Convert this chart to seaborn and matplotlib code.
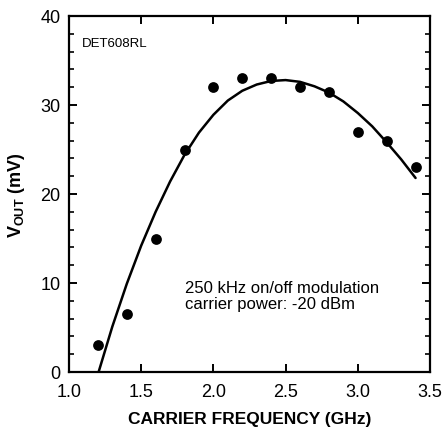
import numpy as np
import pandas as pd
import matplotlib
matplotlib.use("Agg")
import matplotlib.pyplot as plt
import seaborn as sns

# measured points
freq = [1.2, 1.4, 1.6, 1.8, 2.0, 2.2, 2.4, 2.6, 2.8, 3.0, 3.2, 3.4]
vout = [3.0, 6.5, 15.0, 25.0, 32.0, 33.0, 33.0, 32.0, 31.5, 27.0, 26.0, 23.0]

# fitted curve
curve_f = [1.205, 1.3, 1.4, 1.5, 1.6, 1.7, 1.8, 1.9, 2.0, 2.1, 2.2, 2.3, 2.4,
           2.5, 2.6, 2.7, 2.8, 2.9, 3.0, 3.1, 3.2, 3.3, 3.4]
curve_v = [0.0, 5.1, 9.9, 14.2, 18.0, 21.4, 24.4, 26.9, 28.9, 30.5, 31.6, 32.3, 32.7,
           32.8, 32.6, 32.1, 31.4, 30.4, 29.1, 27.6, 25.8, 23.9, 21.8]

x_ticks = [1.0, 1.5, 2.0, 2.5, 3.0, 3.5]
y_ticks = [0, 10, 20, 30, 40]

sns.set_theme(style="ticks")
plt.rcParams['font.family'] = ['Liberation Sans', 'DejaVu Sans']
plt.rcParams['mathtext.fontset'] = 'custom'
plt.rcParams['mathtext.rm'] = 'Liberation Sans'
plt.rcParams['mathtext.bf'] = 'Liberation Sans:bold'
plt.rcParams['text.color'] = 'black'
plt.rcParams['axes.labelcolor'] = 'black'
plt.rcParams['xtick.color'] = 'black'
plt.rcParams['ytick.color'] = 'black'

pts = pd.DataFrame({"f": freq, "v": vout})
crv = pd.DataFrame({"f": curve_f, "v": curve_v})

fig = plt.figure(figsize=(4.43, 4.35), dpi=100)
ax = fig.add_axes([69/443, 1 - 373/435, (430-69)/443, (373-17)/435])

sns.lineplot(data=crv, x="f", y="v", ax=ax, color="black", lw=1.8, sort=False)
sns.scatterplot(data=pts, x="f", y="v", ax=ax, color="black", s=60,
                edgecolor="black", linewidth=0, zorder=3)

ax.set_xlim(1.0, 3.5)
ax.set_ylim(0, 40)
ax.set_xticks(x_ticks)
ax.set_xticklabels([f"{t:.1f}" for t in x_ticks])
ax.set_yticks(y_ticks)
ax.set_yticklabels([str(t) for t in y_ticks])
ax.set_yticks(np.arange(0, 41, 2), minor=True)

for s in ax.spines.values():
    s.set_linewidth(1.6)
    s.set_color("black")

ax.tick_params(axis="both", which="major", direction="in", length=6, width=1.4,
               top=True, right=True, labelsize=13, labelcolor="black")
ax.tick_params(axis="x", which="major", pad=8)
ax.tick_params(axis="y", which="major", pad=6)
ax.tick_params(axis="y", which="minor", direction="in", length=3.5, width=1.2,
               left=True, right=True)
ax.tick_params(axis="x", which="minor", bottom=False, top=False)

ax.set_xlabel("CARRIER FREQUENCY (GHz)", fontsize=12.5, fontweight="bold", labelpad=8)
ax.set_ylabel(r"$\mathbf{V}_{\mathbf{OUT}}$ (mV)", fontsize=13, fontweight="bold", labelpad=10)

ax.text(1.088, 37.0, "DET608RL", fontsize=9.5, va="center", ha="left", color="black")
ax.text(1.805, 8.6, "250 kHz on/off modulation\ncarrier power: -20 dBm",
        fontsize=12, va="center", ha="left", linespacing=1.1, color="black")

ax.grid(False)
fig.savefig("out.png", dpi=100)
